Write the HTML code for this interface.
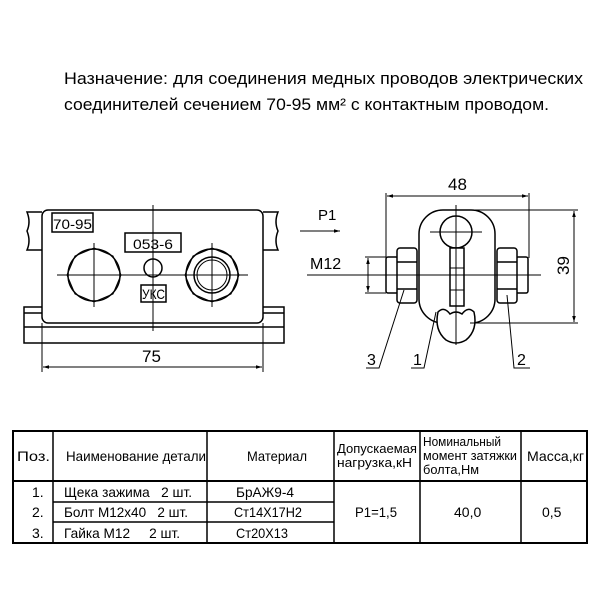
<!DOCTYPE html>
<html><head><meta charset="utf-8"><style>
body{margin:0;background:#fff}
svg{display:block}
text{font-family:"Liberation Sans","DejaVu Sans",sans-serif;fill:#000;white-space:pre}
</style></head><body>
<svg width="600" height="600" viewBox="0 0 600 600" xmlns="http://www.w3.org/2000/svg">
<defs>
<marker id="ar" viewBox="0 0 10 10" refX="10" refY="5" markerWidth="8" markerHeight="6" orient="auto-start-reverse"><path d="M0,2 L10,5 L0,8 z" fill="#000"/></marker>
</defs>
<text x="64" y="84" font-size="17" textLength="519" lengthAdjust="spacingAndGlyphs">Назначение: для соединения медных проводов электрических</text>
<text x="64" y="110" font-size="17" textLength="485" lengthAdjust="spacingAndGlyphs">соединителей сечением 70-95 мм² с контактным проводом.</text>

<g fill="none" stroke="#000" stroke-width="1.5">
<path d="M42,212 L27,212 Q31,222 27,231 Q31,241 27,250 L42,250"/>
<path d="M263,212 L278,212 Q274,222 278,231 Q274,241 278,250 L263,250"/>
<rect x="24" y="307" width="260" height="36"/>
<line x1="24" y1="313" x2="284" y2="313"/>
<line x1="24" y1="327" x2="284" y2="327"/>
<rect x="42" y="210" width="221" height="113" rx="6" fill="#fff"/>
<rect x="52" y="213" width="41" height="19"/>
<rect x="125" y="233" width="56" height="19"/>
<rect x="141" y="285" width="25" height="17"/>
<polygon points="94,248 113,256 121,275 113,294 94,302 75,294 67,275 75,256" stroke-width="1"/>
<circle cx="94" cy="275" r="26"/>
<polygon points="212,248 231,256 239,275 231,294 212,302 193,294 185,275 193,256" stroke-width="1"/>
<circle cx="212" cy="275" r="26"/>
<circle cx="212" cy="275" r="18"/>
<circle cx="212" cy="275" r="15" stroke-width="1"/>
<circle cx="153" cy="268" r="9"/>
</g>
<g stroke="#000" stroke-width="1" fill="none">
<line x1="153" y1="205" x2="153" y2="331"/>
<line x1="57" y1="275" x2="248" y2="275"/>
<line x1="94" y1="243" x2="94" y2="307"/>
<line x1="212" y1="243" x2="212" y2="307"/>
<line x1="42" y1="323" x2="42" y2="372"/>
<line x1="263" y1="323" x2="263" y2="372"/>
<line x1="43" y1="367" x2="262" y2="367" marker-start="url(#ar)" marker-end="url(#ar)"/>
</g>
<text x="53" y="229" font-size="14" textLength="39" lengthAdjust="spacingAndGlyphs">70-95</text>
<text x="133" y="249" font-size="14" textLength="40" lengthAdjust="spacingAndGlyphs">053-6</text>
<text x="142" y="299" font-size="14" textLength="23" lengthAdjust="spacingAndGlyphs">УКС</text>
<text x="142" y="362" font-size="17">75</text>

<g fill="none" stroke="#000" stroke-width="1.5">
<rect x="419" y="210" width="76" height="113" rx="24"/>
<circle cx="456" cy="232" r="16" fill="#fff"/>
<rect x="450" y="248" width="14" height="58" fill="#fff"/>
<path d="M438,312 Q444,306 450,314 Q456,310 462,314 Q468,306 474,312 Q478,330 466,340 Q456,346 446,340 Q434,330 438,312 Z" fill="#fff"/>
<rect x="386" y="257" width="12" height="36" rx="2"/>
<rect x="397" y="248" width="20" height="55" rx="3" fill="#fff"/>
<line x1="397" y1="262" x2="417" y2="262"/><line x1="397" y1="289" x2="417" y2="289"/>
<rect x="516" y="257" width="12" height="36" rx="2"/>
<rect x="497" y="248" width="20" height="55" rx="3" fill="#fff"/>
<line x1="497" y1="262" x2="517" y2="262"/><line x1="497" y1="289" x2="517" y2="289"/>
</g>
<g stroke="#000" stroke-width="1" fill="none">
<line x1="450" y1="268" x2="464" y2="268"/><line x1="450" y1="290" x2="464" y2="290"/>
<line x1="456" y1="205" x2="456" y2="345"/>
<line x1="430" y1="232" x2="482" y2="232"/>
<line x1="380" y1="275" x2="541" y2="275"/>
<line x1="386" y1="193" x2="386" y2="258"/>
<line x1="529" y1="193" x2="529" y2="258"/>
<line x1="387" y1="196" x2="528" y2="196" marker-start="url(#ar)" marker-end="url(#ar)"/>
<line x1="470" y1="210" x2="578" y2="210"/>
<line x1="470" y1="323" x2="578" y2="323"/>
<line x1="574" y1="211" x2="574" y2="322" marker-start="url(#ar)" marker-end="url(#ar)"/>
<line x1="307" y1="275" x2="380" y2="275"/>
<line x1="365" y1="257" x2="386" y2="257"/>
<line x1="365" y1="293" x2="386" y2="293"/>
<line x1="368" y1="258" x2="368" y2="292" marker-start="url(#ar)" marker-end="url(#ar)"/>
<line x1="300" y1="231" x2="340" y2="231" marker-end="url(#ar)"/>
<polyline points="366,368 379,368 404,290"/>
<polyline points="411,368 424,368 436,312"/>
<polyline points="530,368 514,368 507,295"/>
</g>
<text x="318" y="220" font-size="15">P1</text>
<text x="310" y="269" font-size="16">M12</text>
<text x="448" y="190" font-size="17">48</text>
<text x="0" y="0" font-size="17" transform="translate(569,275) rotate(-90)">39</text>
<text x="367" y="365" font-size="16">3</text>
<text x="413" y="365" font-size="16">1</text>
<text x="517" y="365" font-size="16">2</text>

<g stroke="#000" fill="none">
<rect x="13" y="431" width="574" height="112" stroke-width="2"/>
<line x1="13" y1="481" x2="587" y2="481" stroke-width="2"/>
<line x1="53" y1="431" x2="53" y2="543" stroke-width="1.5"/>
<line x1="207" y1="431" x2="207" y2="543" stroke-width="1.5"/>
<line x1="334" y1="431" x2="334" y2="543" stroke-width="1.5"/>
<line x1="420" y1="431" x2="420" y2="543" stroke-width="1.5"/>
<line x1="521" y1="431" x2="521" y2="543" stroke-width="1.5"/>
<line x1="53" y1="502" x2="334" y2="502" stroke-width="1.5"/>
<line x1="53" y1="522" x2="334" y2="522" stroke-width="1.5"/>
</g>
<g font-size="14">
<text x="17" y="461" textLength="33" lengthAdjust="spacingAndGlyphs">Поз.</text>
<text x="66" y="461" textLength="140" lengthAdjust="spacingAndGlyphs">Наименование детали</text>
<text x="247" y="461" textLength="60" lengthAdjust="spacingAndGlyphs">Материал</text>
<text x="337" y="453" font-size="13" textLength="80" lengthAdjust="spacingAndGlyphs">Допускаемая</text>
<text x="337" y="467" font-size="13" textLength="75" lengthAdjust="spacingAndGlyphs">нагрузка,кН</text>
<text x="423" y="446" font-size="13" textLength="78" lengthAdjust="spacingAndGlyphs">Номинальный</text>
<text x="423" y="460" font-size="13" textLength="94" lengthAdjust="spacingAndGlyphs">момент затяжки</text>
<text x="423" y="474" font-size="13" textLength="56" lengthAdjust="spacingAndGlyphs">болта,Нм</text>
<text x="527" y="461" textLength="57" lengthAdjust="spacingAndGlyphs">Масса,кг</text>
<text x="32" y="497">1.</text>
<text x="32" y="517">2.</text>
<text x="32" y="538">3.</text>
<text x="64" y="497" textLength="128" lengthAdjust="spacingAndGlyphs">Щека зажима   2 шт.</text>
<text x="64" y="517" textLength="124" lengthAdjust="spacingAndGlyphs">Болт М12х40   2 шт.</text>
<text x="64" y="538" textLength="116" lengthAdjust="spacingAndGlyphs">Гайка М12     2 шт.</text>
<text x="236" y="497" textLength="58" lengthAdjust="spacingAndGlyphs">БрАЖ9-4</text>
<text x="234" y="517" textLength="68" lengthAdjust="spacingAndGlyphs">Ст14Х17Н2</text>
<text x="236" y="538" textLength="52" lengthAdjust="spacingAndGlyphs">Ст20Х13</text>
<text x="355" y="517" textLength="42" lengthAdjust="spacingAndGlyphs">Р1=1,5</text>
<text x="454" y="517">40,0</text>
<text x="542" y="517">0,5</text>
</g>
</svg>
</body></html>
